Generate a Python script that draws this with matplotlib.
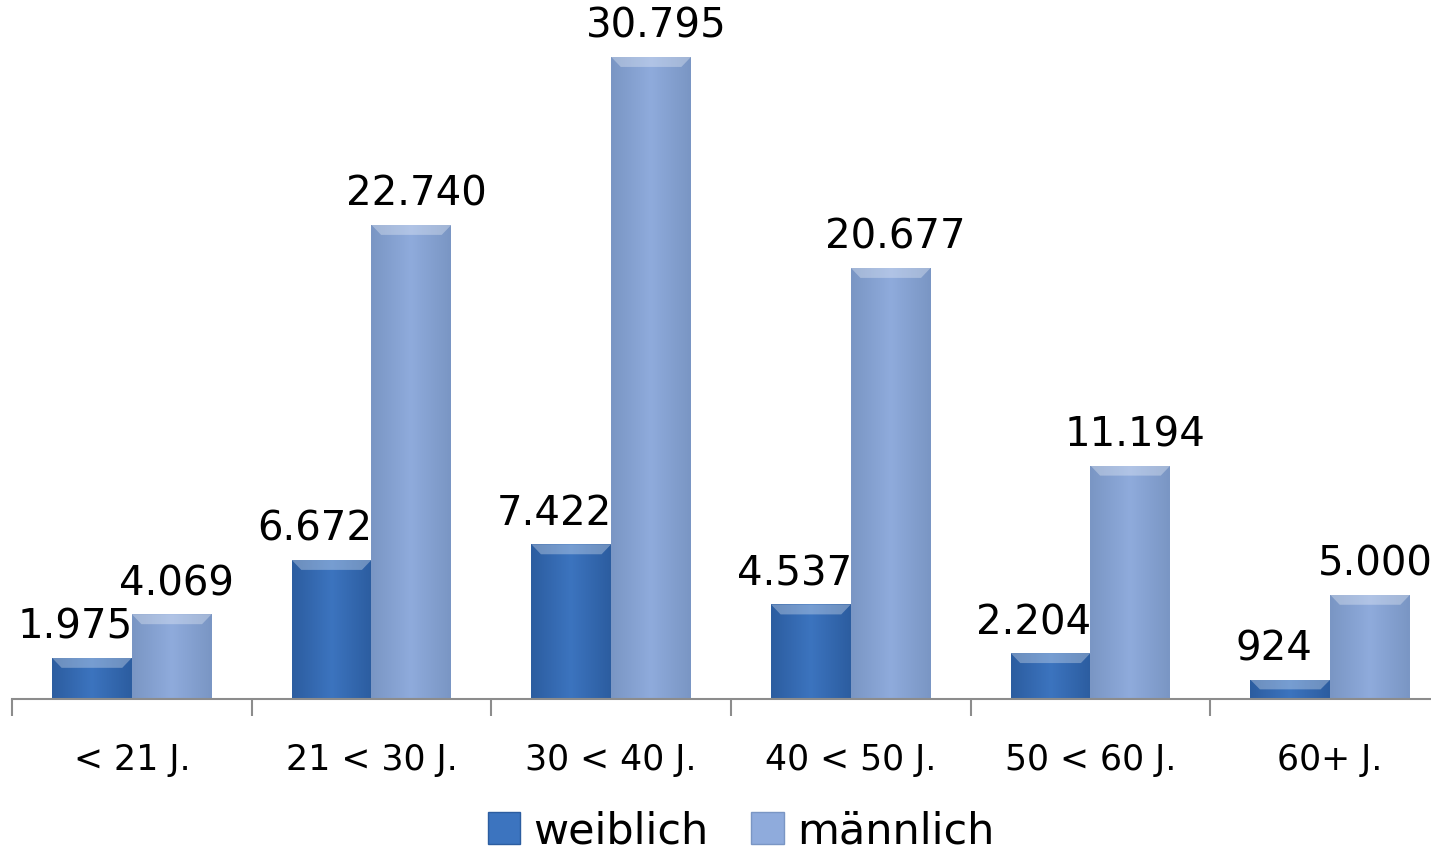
import matplotlib
matplotlib.use('Agg')
import matplotlib.pyplot as plt
import numpy as np
from matplotlib.patches import Patch

categories = ['< 21 J.', '21 < 30 J.', '30 < 40 J.', '40 < 50 J.', '50 < 60 J.', '60+ J.']
weiblich = [1975, 6672, 7422, 4537, 2204, 924]
maennlich = [4069, 22740, 30795, 20677, 11194, 5000]
series_names = ['weiblich', 'männlich']

c_w = ['#2c5da0', '#3c74bf', '#2c5da0']
c_m = ['#7a96c4', '#8fabdc', '#7a96c4']


def fmt(v):
    return f'{v:,}'.replace(',', '.')


def shade(ax, bars, cols):
    # horizontal gradient + lighter bevel on top of each bar
    cmap = matplotlib.colors.LinearSegmentedColormap.from_list('g', cols)
    grad = np.linspace(0, 1, 64).reshape(1, -1)
    for b in bars:
        x, y = b.get_x(), b.get_y()
        w, h = b.get_width(), b.get_height()
        im = ax.imshow(grad, extent=(x, x + w, y, y + h), aspect='auto',
                       cmap=cmap, zorder=2, interpolation='bicubic')
        im.set_clip_path(b)
        bev = min(h * 0.5, 480)
        ax.fill([x, x + w, x + w * 0.88, x + w * 0.12], [y + h, y + h, y + h - bev, y + h - bev],
                color='white', alpha=0.3, zorder=3, lw=0)
        b.set_alpha(0)


fig = plt.figure(figsize=(14.31, 8.51), dpi=100)
ax = fig.add_axes([12 / 1431, 1 - 699 / 851, 1438 / 1431, 699 / 851])

x = np.arange(len(categories))
bw = 0.333
b1 = ax.bar(x - bw / 2, weiblich, bw, color=c_w[1], zorder=2)
b2 = ax.bar(x + bw / 2, maennlich, bw, color=c_m[1], zorder=2)
shade(ax, b1, c_w)
shade(ax, b2, c_m)

for bars, vals, dx in [(b1, weiblich, -0.07), (b2, maennlich, 0.02)]:
    for b, v in zip(bars, vals):
        ax.text(b.get_x() + b.get_width() / 2 + dx, v + 480, fmt(v),
                ha='center', va='bottom', fontsize=29, color='black', zorder=5)

ax.set_xlim(-0.5, 5.5)
ax.set_ylim(0, 33525)
ax.set_yticks([])
for s in ['top', 'right', 'left']:
    ax.spines[s].set_visible(False)
ax.spines['bottom'].set_color('#8c8c8c')
ax.spines['bottom'].set_linewidth(1.5)
ax.set_xticks(x)
ax.set_xticklabels(categories, fontsize=25)
ax.tick_params(axis='x', which='major', length=0, pad=32)
ax.set_xticks(np.arange(-0.5, 6, 1), minor=True)
ax.tick_params(axis='x', which='minor', length=12, width=1.5, color='#8c8c8c')

handles = [Patch(facecolor=c_w[1], edgecolor=c_w[0]), Patch(facecolor=c_m[1], edgecolor=c_m[0])]
fig.legend(handles, series_names, loc='center', bbox_to_anchor=(741 / 1431, 1 - 831 / 851),
           ncol=2, frameon=False, fontsize=31, handlelength=0.75, handleheight=0.75,
           handletextpad=0.3, columnspacing=1.0)

fig.savefig('out.png', dpi=100)
